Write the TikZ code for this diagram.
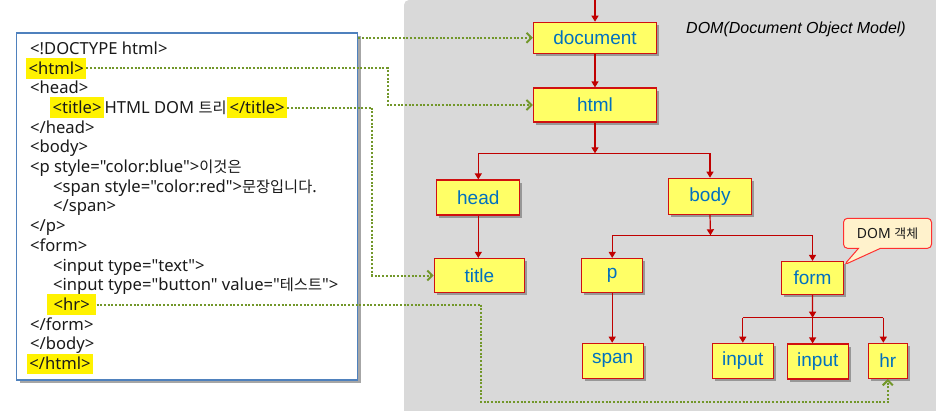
\documentclass[tikz,border=0pt]{standalone}
\usepackage{fontspec}
\setmainfont{Liberation Sans}
\newfontfamily\codefont{Noto Sans}
\newfontfamily\kr[Scale=0.92]{Noto Sans CJK KR}
\usetikzlibrary{arrows.meta,shadows,shapes.callouts,calc}
\definecolor{panelgray}{HTML}{D9D9D9}
\definecolor{domred}{HTML}{C00000}
\definecolor{boxred}{HTML}{D01010}
\definecolor{boxyellow}{HTML}{FFFF66}
\definecolor{domblue}{HTML}{0070C0}
\definecolor{dotgreen}{HTML}{72972A}
\definecolor{codeblue}{HTML}{4F81BD}
\definecolor{calloutfill}{HTML}{FFF2CC}
\definecolor{calloutred}{HTML}{FF3030}
\definecolor{codetext}{HTML}{1A1A1A}
\begin{document}
\begin{tikzpicture}[x=1pt,y=-1pt,
  dombox/.style={draw=boxred, fill=boxyellow, line width=1.2pt, text=domblue,
    font=\fontsize{19}{22}\selectfont, inner sep=0pt,
    drop shadow={shadow xshift=2.5pt, shadow yshift=-2.5pt, fill=black, opacity=0.3}},
  rline/.style={draw=domred, line width=1.2pt},
  rarr/.style={rline, -{Triangle[length=6pt,width=7pt]}},
  garr/.style={draw=dotgreen, line width=2pt, dash pattern=on 2pt off 1.7pt,
    -{Straight Barb[length=5pt,width=10pt,line width=2pt]}},
  gline/.style={draw=dotgreen, line width=2pt, dash pattern=on 2pt off 1.7pt},
  code/.style={anchor=base west, inner sep=0pt, text=codetext,
    font=\codefont\fontsize{16.6}{19}\selectfont},
  hl/.style={code, fill=yellow, inner xsep=2.5pt, inner ysep=2pt,
    text height=14pt, text depth=2.5pt},
  codeframe/.style={draw=codeblue, line width=1.3pt, fill=white,
    drop shadow={shadow xshift=3.5pt, shadow yshift=-3.5pt, fill=black, opacity=0.35}}
]
\useasboundingbox (0,0) rectangle (936,410);
\fill[white] (0,0) rectangle (936,410);
% gray panel
\fill[panelgray, rounded corners=5pt] (404,0) rectangle (960,430);

% code box
\node[codeframe, minimum width=341pt, minimum height=347pt, inner sep=0pt] (codebox) at (187.2,206.4) {};

% code lines
\node[code] (c0) at (30,54.3) {<!DOCTYPE html>};
\node[hl] (hlhtml) at (26,74) {<html>};
\node[code] (c2) at (30,93.7) {<head>};
\node[hl] (hlttlo) at (50,113.4) {<title>};
\node[code] (c3) at (hlttlo.base east) {HTML DOM {\kr 트리}};
\node[hl] (hlttlc) at (c3.base east) {</title>};
\node[code] (c4) at (30,133.1) {</head>};
\node[code] (c5) at (30,152.8) {<body>};
\node[code] (c6) at (30,172.5) {<p style="color:blue">{\kr 이것은}};
\node[code] (c7) at (53,192.2) {<span style="color:red">{\kr 문장입니다}.};
\node[code] (c8) at (53,211.9) {</span>};
\node[code] (c9) at (30,231.6) {</p>};
\node[code] (c10) at (30,251.3) {<form>};
\node[code] (c11) at (53,271) {<input type="text">};
\node[code] (c12) at (53,290.7) {<input type="button" value="{\kr 테스트}">};
\node[hl, inner xsep=6.5pt] (hlhr) at (47,310.4) {<hr>};
\node[code] (c14) at (30,330.1) {</form>};
\node[code] (c15) at (30,349.8) {</body>};
\node[hl] (hlhtmlc) at (26.7,369.5) {</html>};

% title of DOM
\node[anchor=west, inner sep=0pt, font=\itshape\fontsize{16}{19}\selectfont] (domtitle) at (686,29.3) {DOM(Document Object Model)};

% DOM nodes
\node[dombox, minimum width=123pt, minimum height=31pt] (doc) at (595,37.8) {document};
\node[dombox, minimum width=123pt, minimum height=34pt] (htm) at (595,105) {html};
\node[dombox, minimum width=83pt, minimum height=35pt] (head) at (478.3,197.5) {head};
\node[dombox, minimum width=83pt, minimum height=36pt] (body) at (710,196.3) {body};
\node[dombox, minimum width=90pt, minimum height=34pt] (title) at (479.3,275.5) {title};
\node[dombox, minimum width=61pt, minimum height=34pt] (p) at (612.2,275.5) {p};
\node[dombox, minimum width=62pt, minimum height=33pt] (form) at (812.5,278) {form};
\node[dombox, minimum width=61pt, minimum height=35pt] (span) at (612.7,360.8) {span};
\node[dombox, minimum width=61pt, minimum height=35pt] (in1) at (742.8,360.8) {input};
\node[dombox, minimum width=61pt, minimum height=35pt] (in2) at (817.8,361.5) {input};
\node[dombox, minimum width=39pt, minimum height=35pt] (hr) at (887.8,360.8) {hr};

% callout
\node[rectangle callout, draw=calloutred, fill=calloutfill, line width=1pt,
  rounded corners=4pt, minimum width=88pt, minimum height=30pt, inner sep=0pt,
  callout absolute pointer={([yshift=-4pt]form.north east)}, callout pointer width=22pt,
  font=\codefont\fontsize{14}{16}\selectfont, text=codetext] (callout) at (887.5,233.3) {DOM {\kr 객체}};

% red tree connectors
\coordinate (top) at (595,0);
\coordinate (j1) at (595,153.3);
\coordinate (j2) at (710.5,235.3);
\coordinate (j3) at (812.6,317.7);
\coordinate (j3r) at (883.3,317.7);
\draw[rarr] (top) -- (doc.north);
\draw[rarr] (doc.south) -- (htm.north);
\draw[rarr] (htm.south) -- (j1);
\draw[rline] (j1 -| head.north) -- (j1 -| body.north);
\draw[rarr] (j1 -| head.north) -- (head.north);
\draw[rarr] (j1 -| body.north) -- (body.north);
\draw[rarr] (head.south) -- (head.south |- title.north);
\draw[rarr] (body.south) -- (j2);
\draw[rline] (j2 -| p.north) -- (j2 -| form.north);
\draw[rarr] (j2 -| p.north) -- (p.north);
\draw[rarr] (j2 -| form.north) -- (form.north);
\draw[rarr] (p.south) -- (p.south |- span.north);
\draw[rarr] (form.south) -- (j3);
\draw[rline] (j3 -| in1.north) -- (j3r);
\draw[rarr] (j3 -| in1.north) -- (in1.north);
\draw[rarr] (j3) -- (j3 |- in2.north);
\draw[rarr] (j3r) -- (j3r |- hr.north);

% green dotted connectors
\coordinate (g2x) at (387.7,0);
\coordinate (g3x) at (372.3,0);
\coordinate (g4c) at (481.3,402.3);
\draw[garr] (codebox.north east |- doc.west) -- (doc.west);
\draw[garr] (hlhtml.east) -| (g2x |- htm.west) -- (htm.west);
\draw[garr] (hlttlc.east) -| (g3x |- title.west) -- (title.west);
\draw[garr] (hlhr.east) -| (g4c) -| (hr.south);
\end{tikzpicture}
\end{document}
